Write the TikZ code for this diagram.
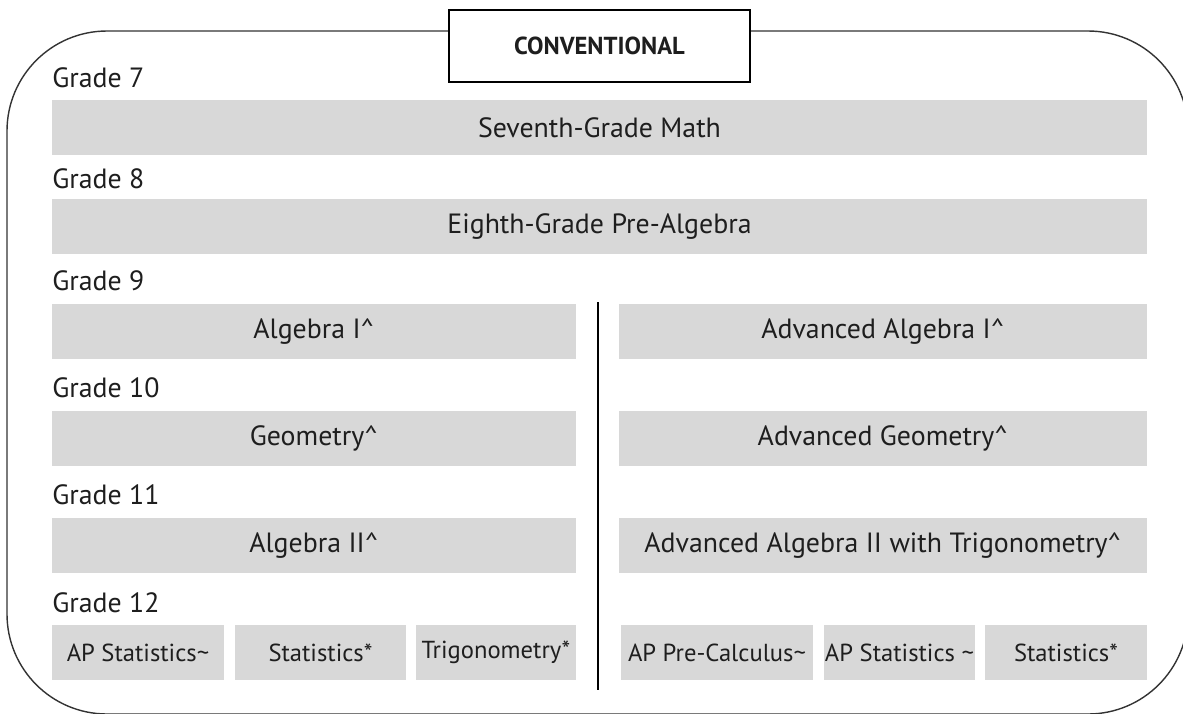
\documentclass[tikz,border=0pt]{standalone}
\usepackage{fontspec}
\setmainfont{PT Sans}
\definecolor{barfill}{HTML}{D8D8D8}
\definecolor{txt}{HTML}{1E1E1E}
\begin{document}
\begin{tikzpicture}[x=0.025cm, y=-0.025cm,
    every node/.style={font=\fontsize{19.8}{22}\selectfont, text=txt},
    course/.style={fill=barfill, inner sep=0pt, minimum height=1.375cm},
    small/.style={font=\fontsize{17.5}{19}\selectfont},
    grade/.style={anchor=base west, inner sep=0pt}]
    \useasboundingbox (0,0) rectangle (1183,713);

    % Marco exterior
    \draw[black!80, line width=1pt, rounded corners=2.5cm] (7,31) rectangle (1188,714);
    \node[draw=black, line width=1.3pt, fill=white, minimum width=7.525cm, minimum height=1.8cm,
      font=\fontsize{17.5}{19}\selectfont\bfseries] (title) at (599.5,46) {CONVENTIONAL};

    % Grados
    \node[grade] (g7) at (52,87) {Grade 7};
    \node[grade] (g8) at (52,188) {Grade 8};
    \node[grade] (g9) at (52,290) {Grade 9};
    \node[grade] (g10) at (52,397) {Grade 10};
    \node[grade] (g11) at (52,504) {Grade 11};
    \node[grade] (g12) at (52,612) {Grade 12};

    % Cursos comunes
    \node[course, minimum width=27.375cm] (math7) at (599.5,127.5) {Seventh-Grade Math};
    \node[course, minimum width=27.375cm] (prealg) at (599.5,226.5) {Eighth-Grade Pre-Algebra};

    % Ruta regular
    \node[course, minimum width=13.1cm] (alg1) at (314,331.5) {Algebra I\textasciicircum};
    \node[course, minimum width=13.1cm] (geo) at (314,438.5) {Geometry\textasciicircum};
    \node[course, minimum width=13.1cm] (alg2) at (314,545.5) {Algebra II\textasciicircum};
    \node[course, small, minimum width=4.3cm] (apstat) at (138,652.5) {AP Statistics\textasciitilde};
    \node[course, small, minimum width=4.275cm] (stat) at (320.5,652.5) {Statistics*};
    \node[course, small, minimum width=4cm] (trig) at (496,652.5) {Trigonometry*};

    % Ruta avanzada
    \node[course, minimum width=13.2cm] (advalg1) at (883,331.5) {Advanced Algebra I\textasciicircum};
    \node[course, minimum width=13.2cm] (advgeo) at (883,438.5) {Advanced Geometry\textasciicircum};
    \node[course, minimum width=13.2cm] (advalg2) at (883,545.5) {Advanced Algebra II with Trigonometry\textasciicircum};
    \node[course, small, minimum width=4.8cm] (appre) at (717,652.5) {AP Pre-Calculus\textasciitilde};
    \node[course, small, minimum width=3.775cm] (apstatb) at (899.5,652.5) {AP Statistics \textasciitilde};
    \node[course, small, minimum width=4.05cm] (statb) at (1066,652.5) {Statistics*};

    % Separación
    \coordinate (divtop) at (598,302);
    \coordinate (divbot) at (598,690);
    \draw[line width=1.4pt] (divtop) -- (divbot);
\end{tikzpicture}
\end{document}
